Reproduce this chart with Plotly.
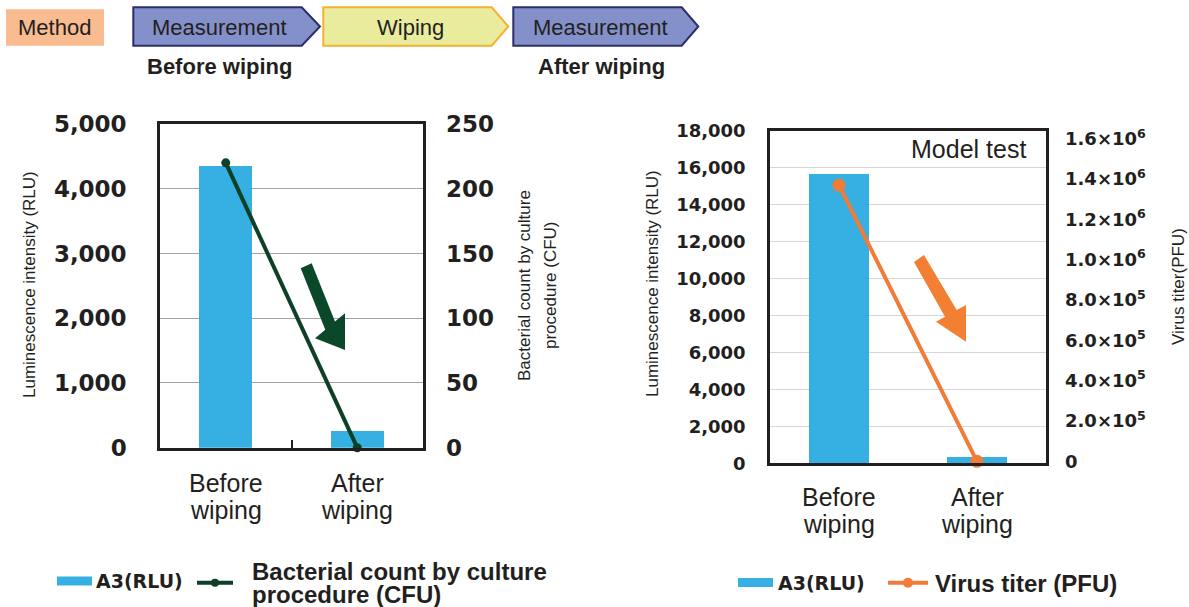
import plotly.graph_objects as go

W, H = 1189, 607

# ---------------- data ----------------
categories = ["Before wiping", "After wiping"]
cat_line1 = ["Before", "After"]
cat_line2 = ["wiping", "wiping"]

a3_bacteria = [4350, 260]          # A3 (RLU), left chart
cfu_counts = [220, 0]              # Bacterial count by culture procedure (CFU)
a3_virus = [15700, 340]            # A3 (RLU), right chart
pfu_titers = [1.37e6, 0]           # Virus titer (PFU)

rlu_ticks_left = [0, 1000, 2000, 3000, 4000, 5000]
cfu_ticks = [0, 50, 100, 150, 200, 250]
rlu_ticks_right = [0, 2000, 4000, 6000, 8000, 10000, 12000, 14000, 16000, 18000]
pfu_tickvals = [0, 2e5, 4e5, 6e5, 8e5, 1.0e6, 1.2e6, 1.4e6, 1.6e6]
pfu_ticktext = ["0", "2.0×10<sup>5</sup>", "4.0×10<sup>5</sup>", "6.0×10<sup>5</sup>",
                "8.0×10<sup>5</sup>", "1.0×10<sup>6</sup>", "1.2×10<sup>6</sup>",
                "1.4×10<sup>6</sup>", "1.6×10<sup>6</sup>"]

# ---------------- style ----------------
TXT = "#231f20"
BLUE = "#36afe2"
GREEN = "#0e4027"
ORANGE = "#f07c38"
SANS = "Liberation Sans, Arial, sans-serif"
NUM = "DejaVu Sans, Verdana, sans-serif"


def X(px):
    return px / W


def Y(py):
    return 1 - py / H


def path(points):
    return "M " + " L ".join(f"{X(a):.5f},{Y(b):.5f}" for a, b in points) + " Z"


fig = go.Figure()

# left chart
fig.add_trace(go.Bar(x=categories, y=a3_bacteria, name="A3(RLU)", marker_color=BLUE,
                     marker_line_width=0, width=0.4, xaxis="x", yaxis="y", showlegend=False))
fig.add_trace(go.Scatter(x=categories, y=cfu_counts, mode="lines+markers",
                         name="Bacterial count by culture procedure (CFU)",
                         line=dict(color=GREEN, width=4), marker=dict(color=GREEN, size=9),
                         xaxis="x", yaxis="y2", cliponaxis=False, showlegend=False))
# right chart
fig.add_trace(go.Bar(x=categories, y=a3_virus, name="A3(RLU)", marker_color=BLUE,
                     marker_line_width=0, width=0.44, xaxis="x3", yaxis="y3", showlegend=False))
fig.add_trace(go.Scatter(x=categories, y=pfu_titers, mode="lines+markers",
                         name="Virus titer (PFU)",
                         line=dict(color=ORANGE, width=4), marker=dict(color=ORANGE, size=13),
                         xaxis="x3", yaxis="y4", cliponaxis=False, showlegend=False))

L_DOM_X = [X(160), X(423)]
L_DOM_Y = [Y(447.7), Y(124)]
R_DOM_X = [X(770), X(1046)]
R_DOM_Y = [Y(463.3), Y(130.7)]

frame = dict(showline=True, mirror=True, linecolor=TXT, linewidth=2.5)

fig.update_layout(
    width=W, height=H, autosize=False,
    margin=dict(l=0, r=0, t=0, b=0, pad=0, autoexpand=False),
    paper_bgcolor="white", plot_bgcolor="white",
    bargap=0, showlegend=False,
    xaxis=dict(domain=L_DOM_X, anchor="y", type="category", range=[-0.5, 1.5], automargin=False,
               showticklabels=False, tickson="boundaries", ticks="inside", ticklen=8,
               tickwidth=1.5, tickcolor=TXT, showgrid=False, **frame),
    yaxis=dict(domain=L_DOM_Y, anchor="x", range=[0, 5000], tickvals=rlu_ticks_left, automargin=False,
               tickformat=",d", showgrid=True, gridcolor="#a3a3a3", gridwidth=1,
               zeroline=False, ticks="", ticklabelstandoff=26,
               tickfont=dict(family=NUM, size=23, color=TXT, weight="bold"), **frame),
    yaxis2=dict(overlaying="y", anchor="x", side="right", range=[0, 250], tickvals=cfu_ticks,
                showgrid=False, zeroline=False, ticks="", ticklabelstandoff=22, automargin=False,
                tickfont=dict(family=NUM, size=23, color=TXT, weight="bold")),
    xaxis3=dict(domain=R_DOM_X, anchor="y3", type="category", range=[-0.5, 1.5], automargin=False,
                showticklabels=False, ticks="", showgrid=False, **frame),
    yaxis3=dict(domain=R_DOM_Y, anchor="x3", range=[0, 18000], tickvals=rlu_ticks_right, automargin=False,
                tickformat=",d", showgrid=True, gridcolor="#d6d6d6", gridwidth=1,
                zeroline=False, ticks="", ticklabelstandoff=18,
                tickfont=dict(family=NUM, size=18, color=TXT, weight="bold"), **frame),
    yaxis4=dict(overlaying="y3", anchor="x3", side="right", range=[-10000, 1.64e6], automargin=False,
                tickvals=pfu_tickvals, ticktext=pfu_ticktext, showgrid=False,
                zeroline=False, ticks="", ticklabelstandoff=18,
                tickfont=dict(family=NUM, size=18, color=TXT, weight="bold")),
)

shapes = []
ann = []


def note(text, px, py, size, family=SANS, bold=False, xanchor="center", angle=0):
    font = dict(family=family, size=size, color=TXT)
    if bold:
        font["weight"] = "bold"
    ann.append(dict(text=text, x=X(px), y=Y(py), xref="paper", yref="paper", showarrow=False,
                    xanchor=xanchor, yanchor="middle", textangle=angle, font=font,
                    borderpad=0))


# ---------- header flow ----------
shapes.append(dict(type="rect", xref="paper", yref="paper", x0=X(6), x1=X(104), y0=Y(45.7), y1=Y(9.3),
                   fillcolor="#f9bb90", line=dict(width=0), layer="above"))
note("Method", 55, 28, 22)


def chevron(left, shoulder, tip, fill, border):
    top, bot = 7.3, 45.7
    mid = (top + bot) / 2
    return dict(type="path", xref="paper", yref="paper",
                path=path([(left, top), (shoulder, top), (tip, mid), (shoulder, bot), (left, bot)]),
                fillcolor=fill, line=dict(color=border, width=2), layer="above")


shapes.append(chevron(133.3, 301.7, 320, "#8490c9", "#2b2e6b"))
shapes.append(chevron(323.3, 491.7, 508.3, "#e9ec9d", "#f6b12f"))
shapes.append(chevron(513.3, 681.7, 698.3, "#8490c9", "#2b2e6b"))
for cx, t in [(220, "Measurement"), (410, "Wiping"), (600, "Measurement")]:
    note(t, cx, 27.5, 22)
for cx, t in [(220, "Before wiping"), (601.7, "After wiping")]:
    note(t, cx, 66.7, 22, bold=True)

# ---------- category labels ----------
for i, c in enumerate(categories):
    for xa, y1 in [("x", 483), ("x3", 496.7)]:
        for txt, yy in [(cat_line1[i], y1), (cat_line2[i], y1 + 27)]:
            ann.append(dict(text=txt, x=c, xref=xa, y=Y(yy), yref="paper", showarrow=False,
                            xanchor="center", yanchor="middle", borderpad=0,
                            font=dict(family=SANS, size=25, color=TXT)))

# ---------- axis titles ----------
note("Luminescence intensity (RLU)", 29, 285, 17, angle=-90)
note("Bacterial count by culture", 525, 286, 17, angle=-90)
note("procedure (CFU)", 550, 285, 17, angle=-90)
note("Luminescence intensity (RLU)", 652, 284, 17, angle=-90)
note("Virus titer(PFU)", 1178, 287, 17, angle=-90)

note("Model test", 968, 149, 25)

# ---------- trend arrows ----------
shapes.append(dict(type="path", xref="paper", yref="paper", layer="above",
                   path=path([(300.7, 268.3), (311.7, 263.3), (335, 321.6), (345, 313.3),
                              (345, 350), (315, 338.3), (325.3, 329.7)]),
                   fillcolor="#0b482a", line=dict(width=0)))
shapes.append(dict(type="path", xref="paper", yref="paper", layer="above",
                   path=path([(914, 262), (924, 255), (956.7, 310), (966, 305),
                              (966, 341.7), (936, 321.7), (945, 316.7)]),
                   fillcolor="#f37f32", line=dict(width=0)))


# ---------- legends ----------
def legend_bar(x0, x1, yc):
    shapes.append(dict(type="rect", xref="paper", yref="paper", x0=X(x0), x1=X(x1),
                       y0=Y(yc + 4.5), y1=Y(yc - 4.5), fillcolor=BLUE, line=dict(width=0)))


def legend_line(x0, x1, yc, color, r):
    shapes.append(dict(type="line", xref="paper", yref="paper", x0=X(x0), x1=X(x1),
                       y0=Y(yc), y1=Y(yc), line=dict(color=color, width=4)))
    xm = (x0 + x1) / 2
    shapes.append(dict(type="circle", xref="paper", yref="paper", x0=X(xm - r), x1=X(xm + r),
                       y0=Y(yc + r), y1=Y(yc - r), fillcolor=color, line=dict(width=0)))


legend_bar(57, 92, 581)
note("A3(RLU)", 95, 581, 19, family=NUM, bold=True, xanchor="left")
legend_line(197, 233, 582.7, GREEN, 4)
note("Bacterial count by culture", 251, 571, 24, bold=True, xanchor="left")
note("procedure (CFU)", 251, 594, 24, bold=True, xanchor="left")

legend_bar(738, 773, 582.5)
note("A3(RLU)", 777, 583, 19, family=NUM, bold=True, xanchor="left")
legend_line(888, 928, 582.7, ORANGE, 5)
note("Virus titer (PFU)", 934, 583, 24, bold=True, xanchor="left")

fig.update_layout(shapes=shapes, annotations=ann)

fig.write_html("out.html", config={"displayModeBar": False},
               post_script="document.body.style.margin='0';document.body.style.overflow='hidden';")
